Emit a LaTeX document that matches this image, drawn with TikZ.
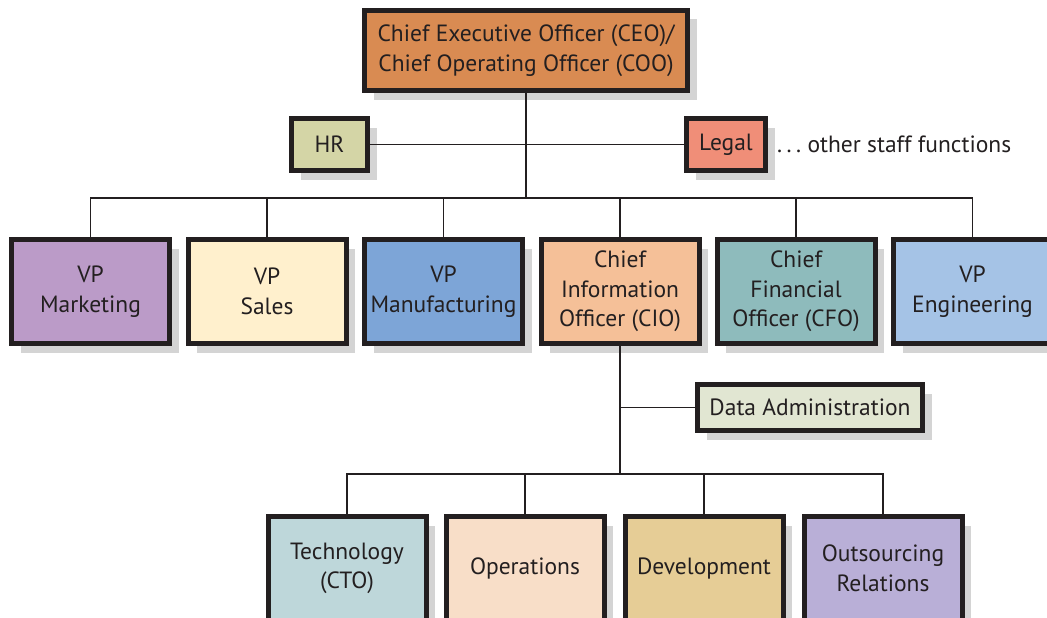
\documentclass[tikz,border=0pt]{standalone}
\usepackage{fontspec}
\setmainfont{PT Sans}
\usetikzlibrary{shadows}
\definecolor{ink}{RGB}{35,31,32}
\definecolor{shade}{RGB}{212,212,212}
\definecolor{ceoc}{RGB}{217,139,82}
\definecolor{hrc}{RGB}{212,213,166}
\definecolor{legalc}{RGB}{240,142,120}
\definecolor{mktc}{RGB}{187,155,200}
\definecolor{salesc}{RGB}{255,240,205}
\definecolor{mfgc}{RGB}{125,165,215}
\definecolor{cioc}{RGB}{245,192,152}
\definecolor{cfoc}{RGB}{142,187,188}
\definecolor{engc}{RGB}{165,195,230}
\definecolor{datac}{RGB}{225,230,210}
\definecolor{techc}{RGB}{190,215,218}
\definecolor{opsc}{RGB}{248,222,200}
\definecolor{devc}{RGB}{230,205,150}
\definecolor{outc}{RGB}{185,175,215}
\begin{document}
\begin{tikzpicture}[x=1pt,y=-1pt,
  labelfont/.style={font=\fontsize{23.5}{29.5}\selectfont},
  orgbox/.style={draw=ink, line width=5pt, align=center, inner sep=0pt, text=ink,
    labelfont,
    drop shadow={shadow xshift=9pt, shadow yshift=-9pt, fill=shade, opacity=1}},
  unitbox/.style={orgbox, minimum width=158pt, minimum height=104pt},
  link/.style={draw=ink, line width=1.5pt}]
\useasboundingbox (0,0) rectangle (1047,618);
\fill[white] (0,0) rectangle (1047,618);

% top of the chart and staff functions
\node[orgbox, fill=ceoc, minimum width=323pt, minimum height=80pt] (ceo) at (526,50.5)
  {Chief Executive Officer (CEO)/\\Chief Operating Officer (COO)};
\node[orgbox, fill=hrc, minimum width=76pt, minimum height=52pt] (hr) at (329.5,144.5) {HR};
\node[orgbox, fill=legalc, minimum width=79pt, minimum height=52pt] (legal) at (726,144.5) {Legal};
\node[anchor=west, text=ink, inner sep=0pt, labelfont] (staff) at (777,144)
  {.\hspace{4.5pt}.\hspace{4.5pt}.\ other staff functions};

% senior executives
\node[unitbox, fill=mktc]   (mkt)   at (90.5,291.5) {VP\\Marketing};
\node[unitbox, fill=salesc] (sales) at (267,291.5)  {VP\\Sales};
\node[unitbox, fill=mfgc]   (mfg)   at (443.5,291.5) {VP\\Manufacturing};
\node[unitbox, fill=cioc]   (cio)   at (620,291.5)  {Chief\\Information\\Officer (CIO)};
\node[unitbox, fill=cfoc]   (cfo)   at (796,291.5)  {Chief\\Financial\\Officer (CFO)};
\node[unitbox, fill=engc]   (eng)   at (972.5,291.5) {VP\\Engineering};

% information systems group
\node[orgbox, fill=datac, minimum width=225pt, minimum height=46pt] (data) at (810,407.5) {Data Administration};
\node[unitbox, fill=techc] (tech) at (347,568.5) {Technology\\(CTO)};
\node[unitbox, fill=opsc]  (ops)  at (525,568.5) {Operations};
\node[unitbox, fill=devc]  (dev)  at (704,568.5) {Development};
\node[unitbox, fill=outc]  (outs) at (883,568.5) {Outsourcing\\Relations};

% reporting lines
\coordinate (vpbus) at (526,198);
\coordinate (cioBus) at (620,474);

\draw[link] (ceo.south) -- (vpbus);
\draw[link] (hr.east) -- (legal.west);
\foreach \n in {mkt,sales,mfg,cio,cfo,eng}
  \draw[link] (vpbus) -| (\n.north);
\draw[link] (cio.south) -- (cioBus);
\draw[link] (cio.south |- data.west) -- (data.west);
\foreach \n in {tech,ops,dev,outs}
  \draw[link] (cioBus) -| (\n.north);
\end{tikzpicture}
\end{document}
